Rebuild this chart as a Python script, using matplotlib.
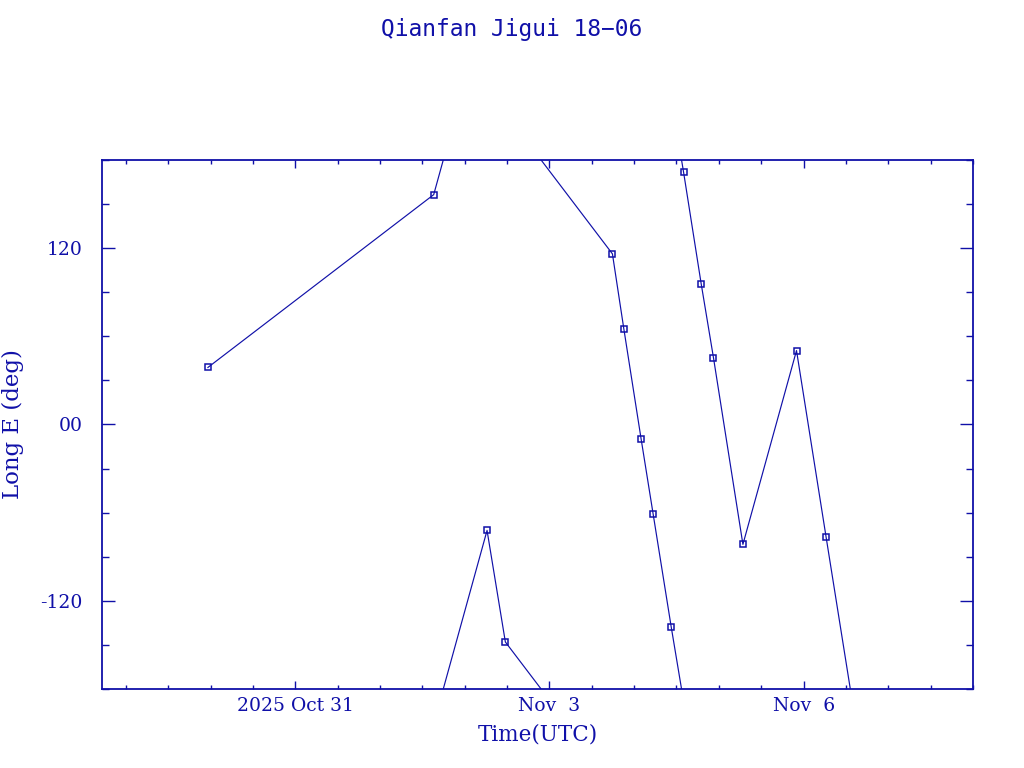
import numpy as np
import matplotlib
matplotlib.use("Agg")
import matplotlib.pyplot as plt
import matplotlib.dates as mdates
from matplotlib.ticker import FixedLocator, MultipleLocator

# ---- data ----
times = ["2025-10-29 23:15", "2025-11-01 15:13", "2025-11-02 06:20", "2025-11-02 11:31",
         "2025-11-03 17:51", "2025-11-03 21:04", "2025-11-04 02:00", "2025-11-04 05:24",
         "2025-11-04 10:29", "2025-11-04 14:00", "2025-11-04 18:59", "2025-11-04 22:29",
         "2025-11-05 06:49", "2025-11-05 22:00", "2025-11-06 06:22", "2025-11-06 18:07"]
longitudes = [38.8, 156.4, -72.1, -148.0,
              116.1, 65.3, -10.2, -61.2,
              -137.5, 171.8, 95.9, 45.3,
              -81.6, 50.3, -76.4, 106.5]
x_tick_dates = ["2025-10-31", "2025-11-03", "2025-11-06"]
x_tick_labels = ["2025 Oct 31", "Nov  3", "Nov  6"]
y_ticks = [-120, 0, 120]
y_tick_labels = ["-120", "00", "120"]
title = "Qianfan Jigui 18\u221206"
xlabel = "Time(UTC)"
ylabel = "Long E (deg)"
x_range = ["2025-10-28 17:20", "2025-11-08 00:00"]

# ---- plot ----
C = "#1010a8"
t = mdates.date2num(np.array(times, dtype="datetime64[m]").astype("O"))
lon_unwrapped = np.unwrap(np.array(longitudes), period=360)

fig = plt.figure(figsize=(10.24, 7.68), dpi=100)
ax = fig.add_axes([0.0999, 0.1029, 0.8503, 0.6888])

for shift in (-360, 0, 360):
    ax.plot(t, lon_unwrapped + shift, color=C, lw=0.85, marker="s", ms=4.2,
            mfc="none", mec=C, mew=1.1)

xr = mdates.date2num(np.array(x_range, dtype="datetime64[m]").astype("O"))
ax.set_xlim(xr[0], xr[1])
ax.set_ylim(-180, 180)

xt = mdates.date2num(np.array(x_tick_dates, dtype="datetime64[D]").astype("O"))
ax.xaxis.set_major_locator(FixedLocator(xt))
ax.set_xticklabels(x_tick_labels)
ax.xaxis.set_minor_locator(MultipleLocator(0.5))
ax.set_yticks(y_ticks)
ax.set_yticklabels(y_tick_labels)
ax.yaxis.set_minor_locator(MultipleLocator(30))

ax.tick_params(axis="both", which="both", direction="in", colors=C,
               top=True, right=True, labelsize=13.5, width=1.0)
ax.tick_params(axis="x", which="major", length=6, pad=6)
ax.tick_params(axis="x", which="minor", length=3)
ax.tick_params(axis="y", which="major", length=9.5, pad=14)
ax.tick_params(axis="y", which="minor", length=4.8)
for lab in ax.get_xticklabels() + ax.get_yticklabels():
    lab.set_family("DejaVu Serif")
    lab.set_color(C)
for sp in ax.spines.values():
    sp.set_color(C)
    sp.set_linewidth(1.3)

ax.set_xlabel(xlabel, fontsize=15.5, family="DejaVu Serif", color=C, labelpad=6)
ax.set_ylabel(ylabel, fontsize=16.5, family="DejaVu Serif", color=C, labelpad=12)
fig.text(0.5, 0.961, title, ha="center", va="center", fontsize=16.5,
         family="DejaVu Sans Mono", color=C)

fig.savefig("out.png", dpi=100)
